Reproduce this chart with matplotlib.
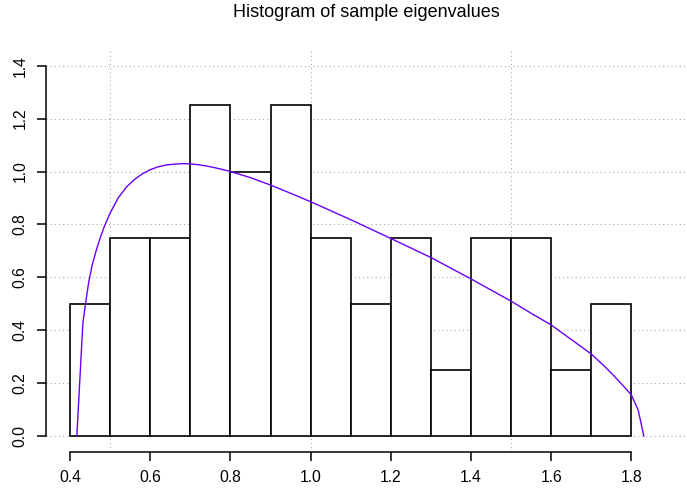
import matplotlib.pyplot as plt

plt.rcParams['font.family'] = ['Liberation Sans', 'DejaVu Sans']

# histogram of the sample eigenvalues (density scale, bin width 0.1)
bin_left = [0.4, 0.5, 0.6, 0.7, 0.8, 0.9, 1.0, 1.1, 1.2, 1.3, 1.4, 1.5, 1.6, 1.7]
density = [0.5, 0.75, 0.75, 1.25, 1.0, 1.25, 0.75, 0.5, 0.75, 0.25, 0.75, 0.75, 0.25, 0.5]
bin_width = 0.1

# limiting density curve
curve_x = [0.417, 0.432, 0.440, 0.447, 0.455, 0.466, 0.475, 0.485, 0.492, 0.500,
           0.520, 0.541, 0.560, 0.580, 0.600, 0.620, 0.640, 0.660, 0.680, 0.700,
           0.720, 0.740, 0.760, 0.780, 0.800, 0.850, 0.900, 0.950, 1.000, 1.100,
           1.200, 1.300, 1.400, 1.500, 1.550, 1.600, 1.650, 1.700, 1.730, 1.755,
           1.780, 1.800, 1.817, 1.831]
curve_y = [0.0, 0.426, 0.515, 0.585, 0.645, 0.705, 0.748, 0.790, 0.815, 0.843,
           0.900, 0.942, 0.969, 0.991, 1.007, 1.018, 1.025, 1.028, 1.030, 1.029,
           1.026, 1.021, 1.015, 1.008, 1.000, 0.977, 0.949, 0.918, 0.886, 0.818,
           0.747, 0.675, 0.594, 0.510, 0.464, 0.420, 0.365, 0.310, 0.268, 0.230,
           0.189, 0.155, 0.098, 0.0]

x_ticks = [0.4, 0.6, 0.8, 1.0, 1.2, 1.4, 1.6, 1.8]
y_ticks = [0.0, 0.2, 0.4, 0.6, 0.8, 1.0, 1.2, 1.4]
x_grid = [0.5, 1.0, 1.5]

fig = plt.figure(figsize=(6.87, 4.94), dpi=100)
ax = fig.add_axes([46 / 687, (494 - 451.5) / 494, 641 / 687, (451.5 - 50.7) / 494])
ax.set_xlim(0.3401, 1.9387)
ax.set_ylim(-0.0586, 1.457)

grid_style = dict(color='#a6a6a6', lw=0.75, linestyle=(0, (1, 3)), zorder=0)
for gy in y_ticks:
    ax.axhline(gy, **grid_style)
for gx in x_grid:
    ax.axvline(gx, **grid_style)

ax.bar(bin_left, density, width=bin_width, align='edge', facecolor='white',
       edgecolor='black', linewidth=1.2, zorder=2)
ax.plot(curve_x, curve_y, color='#6a00ff', lw=1.0, zorder=3)

for side in ['top', 'right']:
    ax.spines[side].set_visible(False)
ax.spines['left'].set_bounds(0.0, 1.4)
ax.spines['bottom'].set_bounds(0.4, 1.8)
ax.spines['left'].set_linewidth(1.1)
ax.spines['bottom'].set_linewidth(1.1)

ax.set_xticks(x_ticks)
ax.set_xticklabels(['%.1f' % v for v in x_ticks])
ax.set_yticks(y_ticks)
ax.set_yticklabels(['%.1f' % v for v in y_ticks], rotation=90, va='center')
ax.tick_params(direction='out', length=6.5, width=1.1, labelsize=11.3, pad=7)

ax.set_title('Histogram of sample eigenvalues', fontsize=13, pad=24)

fig.savefig('out.png', dpi=100)
